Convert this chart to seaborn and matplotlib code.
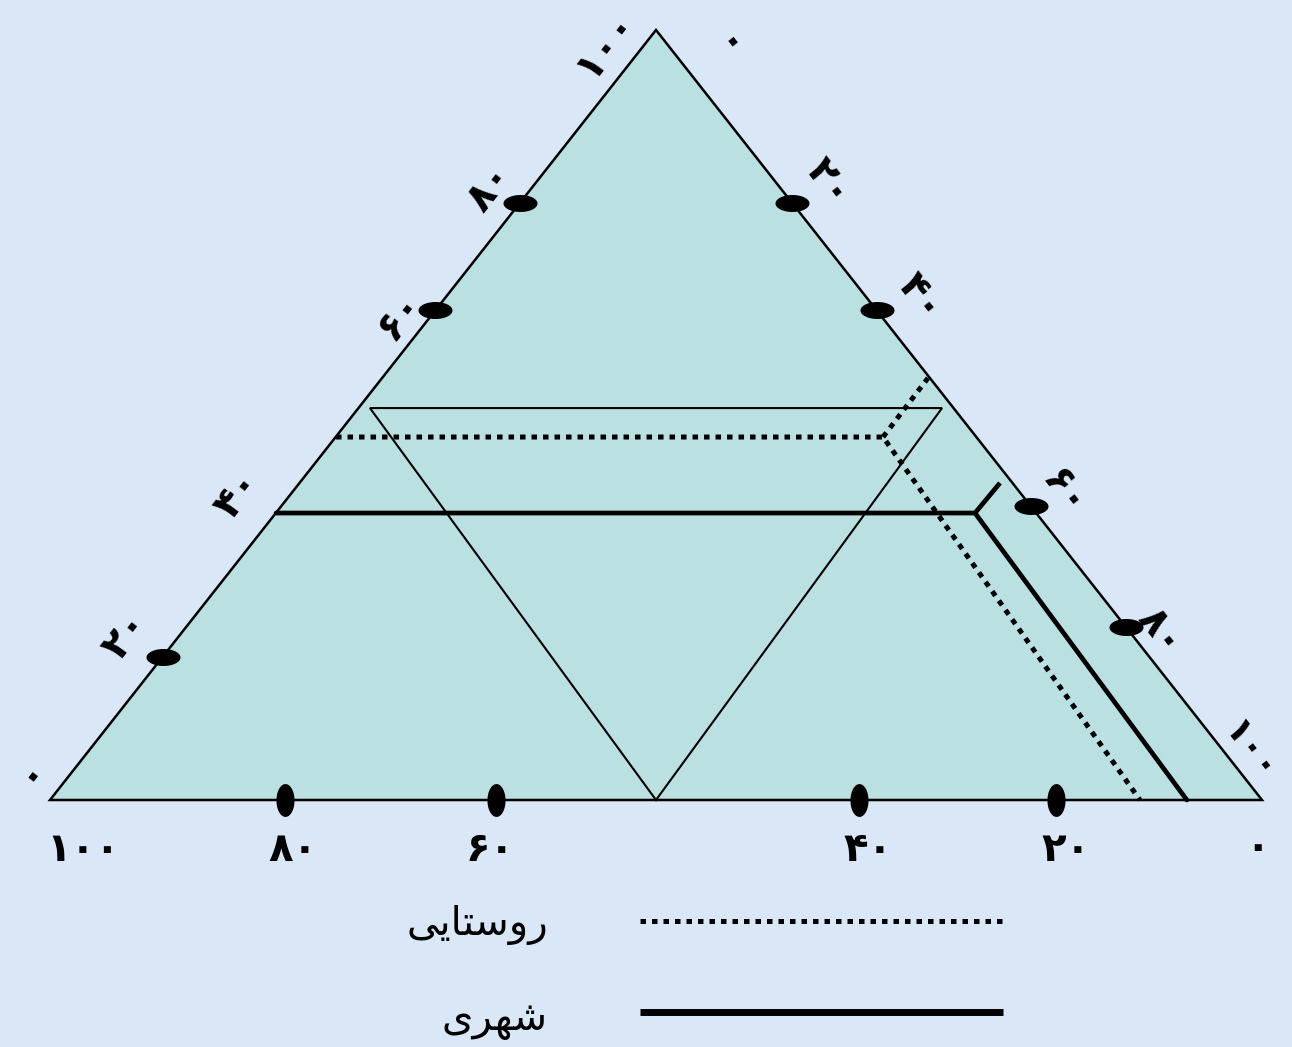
import numpy as np
import pandas as pd
import matplotlib
matplotlib.use("Agg")
import matplotlib.pyplot as plt
from matplotlib.path import Path
from matplotlib.markers import MarkerStyle
import seaborn as sns

# ---------------- data (u = fraction along base, v = fraction of height) ----------------
tri_u = [0.0, 1.0, 0.5]
tri_v = [0.0, 0.0, 1.0]

inner_u = [0.264, 0.736, 0.5]
inner_v = [0.509, 0.509, 0.0]

urban_u = [0.1865, 0.7632, 0.938]
urban_v = [0.3727, 0.3727, 0.0]
urban_spur_u = [0.7632, 0.7838]
urban_spur_v = [0.3727, 0.4117]

rural_u = [0.236, 0.6873, 0.8993]
rural_v = [0.4714, 0.4714, 0.0]
rural_spur_u = [0.6873, 0.7244]
rural_spur_v = [0.4714, 0.548]

bottom_tick_u = [0.1939, 0.368, 0.6675, 0.830]
left_tick_v = [0.186, 0.636, 0.775]
right_tick_v = [0.775, 0.636, 0.382, 0.2247]

bottom_labels = ["۱۰۰", "۸۰", "۶۰", "۴۰", "۲۰", "۰"]
left_labels = ["۰", "۲۰", "۴۰", "۶۰", "۸۰", "۱۰۰"]
right_labels = ["۰", "۲۰", "۴۰", "۶۰", "۸۰", "۱۰۰"]
legend_rural = "روستایی"
legend_urban = "شهری"

# ---------------- simple Persian shaping for display ----------------
FORMS = {
    'ر': ('\uFEAD', '\uFEAE', None, None),
    'و': ('\uFEED', '\uFEEE', None, None),
    'ا': ('\uFE8D', '\uFE8E', None, None),
    'س': ('\uFEB1', '\uFEB2', '\uFEB3', '\uFEB4'),
    'ت': ('\uFE95', '\uFE96', '\uFE97', '\uFE98'),
    'ی': ('\uFBFC', '\uFBFD', '\uFBFE', '\uFBFF'),
    'ش': ('\uFEB5', '\uFEB6', '\uFEB7', '\uFEB8'),
    'ه': ('\uFEE9', '\uFEEA', '\uFEEB', '\uFEEC'),
}


def shape(word):
    out = []
    n = len(word)
    for i, ch in enumerate(word):
        if ch not in FORMS:
            out.append(ch)
            continue
        iso, fin, ini, med = FORMS[ch]
        prev_joins = i > 0 and word[i - 1] in FORMS and FORMS[word[i - 1]][2] is not None
        next_joins = i < n - 1 and ini is not None
        if prev_joins and next_joins:
            out.append(med)
        elif prev_joins:
            out.append(fin)
        elif next_joins:
            out.append(ini)
        else:
            out.append(iso)
    return "".join(reversed(out))


# ---------------- figure ----------------
sns.set_theme(style="white")
plt.rcParams['font.family'] = ['DejaVu Sans']

W, H = 1292, 1047
X0, X1, YB, YT = 50, 1262, 800, 30
BW, BH = X1 - X0, YB - YT

fig = plt.figure(figsize=(W / 100, H / 100), dpi=100)
fig.patch.set_facecolor("#D9E7F6")
ax = fig.add_axes([0, 0, 1, 1])
ax.set_xlim(-X0 / BW, (W - X0) / BW)
ax.set_ylim(-(H - YB) / BH, YB / BH)
ax.axis("off")


def P(x, y):
    return (x - X0) / BW, (YB - y) / BH


# outer triangle
ax.fill(tri_u, tri_v, facecolor="#BBE0E2", edgecolor="black", linewidth=1.8, zorder=1)
# inner inverted triangle
ax.fill(inner_u, inner_v, facecolor="none", edgecolor="black", linewidth=1.5, zorder=2)

# series
dots = (0, (1.1, 1.2))
df_urban = pd.DataFrame({"u": urban_u, "v": urban_v})
df_rural = pd.DataFrame({"u": rural_u, "v": rural_v})
sns.lineplot(data=df_urban, x="u", y="v", sort=False, estimator=None, color="black",
             linewidth=3.4, ax=ax, zorder=3)
ax.plot(urban_spur_u, urban_spur_v, color="black", linewidth=3.4, zorder=3,
        solid_capstyle="butt")
sns.lineplot(data=df_rural, x="u", y="v", sort=False, estimator=None, color="black",
             linewidth=3.6, linestyle=dots, dash_capstyle="butt", ax=ax, zorder=3)
ax.plot(rural_spur_u, rural_spur_v, color="black", linewidth=3.6, linestyle=dots,
        dash_capstyle="butt", zorder=3)

# tick markers (ellipses)
th = np.linspace(0, 2 * np.pi, 60)
horiz_ell = MarkerStyle(Path(np.column_stack([np.cos(th), 0.5 * np.sin(th)])))
vert_ell = MarkerStyle(Path(np.column_stack([0.55 * np.cos(th), np.sin(th)])))

edge_u = [0.5 * v for v in left_tick_v] + [1 - 0.5 * v for v in right_tick_v]
edge_v = list(left_tick_v) + list(right_tick_v)
sns.scatterplot(x=edge_u, y=edge_v, marker=horiz_ell, s=600, color="black",
                edgecolor="black", linewidth=0, ax=ax, zorder=4)
sns.scatterplot(x=bottom_tick_u, y=[0.0] * len(bottom_tick_u), marker=vert_ell, s=560,
                color="black", edgecolor="black", linewidth=0, ax=ax, zorder=4)

# axis labels
fs = 29
bottom_pos = [(83, 850), (293, 850), (490, 850), (868, 850), (1066, 850), (1257, 848)]
for lab, (x, y) in zip(bottom_labels, bottom_pos):
    ax.text(*P(x, y), lab, fontsize=fs, fontweight="bold", ha="center", va="center",
            color="black")

left_pos = [(30, 770), (126, 636), (238, 495), (400, 316), (490, 188), (605, 44)]
for lab, (x, y) in zip(left_labels, left_pos):
    ax.text(*P(x, y), lab, fontsize=fs, fontweight="bold", ha="center", va="center",
            rotation=52, rotation_mode="anchor", color="black")

right_pos = [(728, 48), (828, 183), (920, 298), (1064, 493), (1160, 632), (1250, 752)]
right_fs = [fs, fs, fs, fs, fs, 26]
for lab, (x, y), f in zip(right_labels, right_pos, right_fs):
    ax.text(*P(x, y), lab, fontsize=f, fontweight="bold", ha="center", va="center",
            rotation=-52, rotation_mode="anchor", color="black")

# legend
ax.plot([640 / W, 1003 / W], [1 - 921 / H] * 2, transform=ax.transAxes, color="black",
        linewidth=3.6, linestyle=dots, dash_capstyle="butt")
ax.plot([640 / W, 1003 / W], [1 - 1012 / H] * 2, transform=ax.transAxes, color="black",
        linewidth=5.0, solid_capstyle="butt")
ax.text(548 / W, 1 - 925 / H, shape(legend_rural), transform=ax.transAxes, fontsize=29,
        ha="right", va="center", color="black")
ax.text(548 / W, 1 - 1020 / H, shape(legend_urban), transform=ax.transAxes, fontsize=29,
        ha="right", va="center", color="black")

fig.savefig("out.png", dpi=100, facecolor=fig.get_facecolor())
